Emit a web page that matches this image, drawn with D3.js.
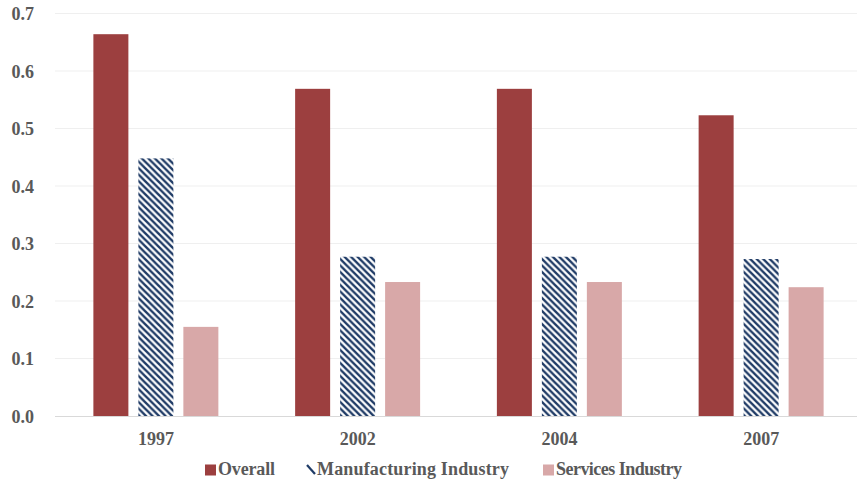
<!DOCTYPE html>
<html>
<head>
<meta charset="utf-8">
<script src="https://cdn.jsdelivr.net/npm/d3@7"></script>
<style>
  html, body { margin: 0; padding: 0; background: #fff; }
  svg { display: block; }
  text { font-family: "Liberation Serif", "Times New Roman", serif; font-weight: bold; fill: #595959; }
</style>
</head>
<body>
<svg id="chart" width="857" height="484"></svg>
<script>
// Chart data
const years = ["1997", "2002", "2004", "2007"];
const seriesNames = ["Overall", "Manufacturing Industry", "Services Industry"];
const overall = [0.664, 0.569, 0.569, 0.523];
const manufacturing = [0.448, 0.277, 0.277, 0.273];
const services = [0.155, 0.233, 0.233, 0.224];
const yTicks = [0.0, 0.1, 0.2, 0.3, 0.4, 0.5, 0.6, 0.7];

const seriesValues = [overall, manufacturing, services];
const fills = ["#9c3f3f", "url(#hatch)", "#d8a8a8"];

const svg = d3.select("#chart");
const W = 857, H = 484;
const plotLeft = 55, plotRight = 862, plotTop = 13.5, plotBottom = 416;

// Diagonal hatch used for the manufacturing series
const defs = svg.append("defs");
const P = 6.5;
const pat = defs.append("pattern")
  .attr("id", "hatch")
  .attr("patternUnits", "userSpaceOnUse")
  .attr("width", P).attr("height", P);
pat.append("rect").attr("width", P).attr("height", P).attr("fill", "#fff");
pat.append("path")
  .attr("d", `M-2,-2 L${P + 2},${P + 2} M-2,${P - 2} L2,${P + 2} M${P - 2},-2 L${P + 2},2`)
  .attr("stroke", "#1f3b66").attr("stroke-width", 2.4);

const y = d3.scaleLinear().domain([0, 0.7]).range([plotBottom, plotTop]);
const x0 = d3.scaleBand().domain(years).range([plotLeft, plotRight]).padding(0);
const x1 = d3.scaleBand().domain(seriesNames).range([0, x0.bandwidth()])
  .paddingInner(0.222).paddingOuter(0.853);

// Gridlines
svg.append("g")
  .selectAll("line")
  .data(yTicks.filter(d => d > 0))
  .join("line")
  .attr("x1", plotLeft).attr("x2", W)
  .attr("y1", d => y(d)).attr("y2", d => y(d))
  .attr("stroke", "#efefef").attr("stroke-width", 1);

// Y axis labels
const yAxis = d3.axisLeft(y).tickValues(yTicks).tickFormat(d3.format(".1f")).tickSize(0).tickPadding(0);
const yg = svg.append("g").attr("transform", "translate(34,0)").call(yAxis);
yg.select(".domain").remove();
yg.selectAll("text")
  .attr("font-size", 18)
  .attr("font-family", null)
  .attr("dy", "0.35em");

// Bars
const groups = svg.append("g")
  .selectAll("g")
  .data(years)
  .join("g")
  .attr("transform", d => `translate(${x0(d)},0)`);

groups.selectAll("rect")
  .data((d, i) => seriesNames.map((s, k) => ({ s, k, v: seriesValues[k][i] })))
  .join("rect")
  .attr("x", d => x1(d.s))
  .attr("width", x1.bandwidth())
  .attr("y", d => y(d.v))
  .attr("height", d => y(0) - y(d.v))
  .attr("fill", d => fills[d.k]);

// Baseline
svg.append("line")
  .attr("x1", plotLeft).attr("x2", W)
  .attr("y1", plotBottom + 0.5).attr("y2", plotBottom + 0.5)
  .attr("stroke", "#d9d9d9").attr("stroke-width", 1);

// X axis labels
const xAxis = d3.axisBottom(x0).tickSize(0).tickPadding(0);
const xg = svg.append("g").attr("transform", `translate(0,${plotBottom})`).call(xAxis);
xg.select(".domain").remove();
xg.selectAll("text")
  .attr("font-size", 18)
  .attr("font-family", null)
  .attr("y", 29)
  .attr("dy", 0);

// Legend
const legendItems = [
  { name: seriesNames[0], x: 205, k: 0, len: 57 },
  { name: seriesNames[1], x: 305, k: 1, len: 192 },
  { name: seriesNames[2], x: 543, k: 2, len: 126 }
];
const lg = svg.append("g").selectAll("g").data(legendItems).join("g")
  .attr("transform", d => `translate(${d.x},0)`);
lg.each(function (d) {
  const g = d3.select(this);
  if (d.k === 1) {
    g.append("path")
      .attr("d", "M2,465 L10,474")
      .attr("stroke", "#1f3b66").attr("stroke-width", 2.2);
  } else {
    g.append("rect")
      .attr("x", 0).attr("y", 464.5)
      .attr("width", 11).attr("height", 11)
      .attr("fill", fills[d.k]);
  }
  g.append("text")
    .attr("x", d.k === 1 ? 12 : 13)
    .attr("y", 475)
    .attr("font-size", 18)
    .attr("textLength", d.len)
    .attr("lengthAdjust", "spacing")
    .text(d.name);
});
</script>
</body>
</html>
